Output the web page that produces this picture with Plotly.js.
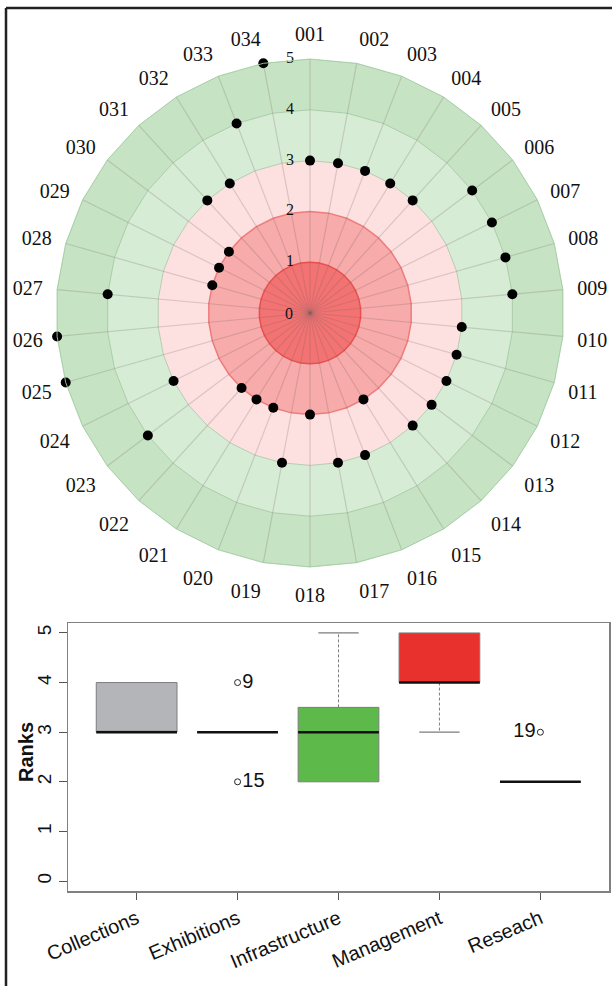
<!DOCTYPE html>
<html><head><meta charset="utf-8">
<script src="https://cdn.plot.ly/plotly-3.0.1.min.js"></script>
<style>html,body{margin:0;padding:0;background:#fff}#chart{width:612px;height:986px}</style>
</head><body><div id="chart"></div>
<script>
// ---- polar (radar) data ----
const museums = ['001','002','003','004','005','006','007','008','009','010','011','012','013','014','015','016','017',
                 '018','019','020','021','022','023','024','025','026','027','028','029','030','031','032','033','034'];
const scores = [3,3,3,3,3,4,4,4,4,3,3,3,3,3,2,3,3,2,3,2,2,2,4,3,5,5,4,2,2,2,3,3,4,5];
const bandEdges = [0,1,2,3,4,5];
const bandColors = ['#f37373','#f8abab','#fde1e1','#d6ecd5','#c6e4c4'];
const ringColors = ['#e84f4f','#ee7c7c','rgba(175,195,170,0.8)','rgba(150,185,150,0.6)','rgba(165,205,165,0.9)'];
const radialTicks = [0,1,2,3,4,5];

// ---- box plot data ----
const dimensions = ['Collections','Exhibitions','Infrastructure','Management','Reseach'];
const boxQ1 = [3,3,2,4,2];
const boxMedian = [3,3,3,4,2];
const boxQ3 = [4,3,3.5,5,2];
const whiskerLow = [3,3,2,3,2];
const whiskerHigh = [4,3,5,5,2];
const boxFills = ['#b3b5b8','#ffffff','#5cb94a','#e8302d','#ffffff'];
const outlierDim = [1,1,4];
const outlierRank = [4,2,3];
const outlierLabel = ['9','15','19'];
const outlierTextPos = ['middle right','middle right','middle left'];
const rankTicks = [0,1,2,3,4,5];

const polarDomain = {x:[56/612, 564/612], y:[1-567/986, 1-59/986]};

const traces = [];
const closed = museums.concat([museums[0]]);
// background bands: nested filled polygons, outermost first
for (let b = bandColors.length - 1; b >= 0; b--) {
  traces.push({
    type:'scatterpolar', subplot:'polar', mode:'lines', fill:'toself',
    theta: closed,
    r: closed.map(() => bandEdges[b+1]),
    fillcolor: bandColors[b],
    line:{color: ringColors[b], width: b <= 1 ? 1.5 : 1},
    hoverinfo:'skip', showlegend:false
  });
}
// spokes
const spT = [], spR = [];
museums.forEach(m => { spT.push(m, m, null); spR.push(bandEdges[0], bandEdges[bandEdges.length-1], null); });
traces.push({
  type:'scatterpolar', subplot:'polar', mode:'lines', theta: spT, r: spR,
  line:{color:'rgba(120,95,95,0.24)', width:1.2}, hoverinfo:'skip', showlegend:false
});
// scores
traces.push({
  type:'scatterpolar', subplot:'polar', mode:'markers',
  theta: museums, r: scores,
  marker:{color:'#000', size:10},
  showlegend:false
});
// radial tick labels (kept horizontal)
const outerTicks = radialTicks.filter(v => v > 0);
traces.push({
  type:'scatterpolar', subplot:'polar', mode:'text',
  theta: outerTicks.map(() => museums[0]), r: outerTicks,
  text: outerTicks.map(v => String(v) + '\u00a0\u00a0\u00a0\u00a0'), textposition:'middle left',
  textfont:{family:'Liberation Serif, Times New Roman, serif', size:16, color:'#111'},
  hoverinfo:'skip', showlegend:false, cliponaxis:false
});

// boxes
const BW = 0.8, CAP = 0.2;
dimensions.forEach((d, i) => {
  traces.push({
    type:'box', xaxis:'x', yaxis:'y',
    x:[i], q1:[boxQ1[i]], median:[boxMedian[i]], q3:[boxQ3[i]],
    lowerfence:[boxQ1[i]], upperfence:[boxQ3[i]],
    width: BW, whiskerwidth: 0,
    fillcolor: boxFills[i], line:{color:'#7d7d7d', width:1},
    boxpoints:false, hoverinfo:'skip', showlegend:false
  });
});
// whiskers (dashed) and caps
const wx = [], wy = [], cx = [], cy = [];
dimensions.forEach((d, i) => {
  if (whiskerHigh[i] > boxQ3[i]) {
    wx.push(i, i, null); wy.push(boxQ3[i], whiskerHigh[i], null);
    cx.push(i - CAP, i + CAP, null); cy.push(whiskerHigh[i], whiskerHigh[i], null);
  }
  if (whiskerLow[i] < boxQ1[i]) {
    wx.push(i, i, null); wy.push(boxQ1[i], whiskerLow[i], null);
    cx.push(i - CAP, i + CAP, null); cy.push(whiskerLow[i], whiskerLow[i], null);
  }
});
traces.push({type:'scatter', mode:'lines', x:wx, y:wy, line:{color:'#7d7d7d', width:1, dash:'3px,2px'}, hoverinfo:'skip', showlegend:false});
traces.push({type:'scatter', mode:'lines', x:cx, y:cy, line:{color:'#7d7d7d', width:1.2}, hoverinfo:'skip', showlegend:false});
// medians
const mx = [], my = [];
dimensions.forEach((d, i) => { mx.push(i - BW/2, i + BW/2, null); my.push(boxMedian[i], boxMedian[i], null); });
traces.push({type:'scatter', mode:'lines', x:mx, y:my, line:{color:'#111', width:2.6}, hoverinfo:'skip', showlegend:false});
// outliers
traces.push({
  type:'scatter', mode:'markers+text', x:outlierDim, y:outlierRank, text:outlierLabel,
  textposition: outlierTextPos,
  textfont:{family:'Liberation Sans, Arial, sans-serif', size:20, color:'#111'},
  marker:{symbol:'circle-open', size:6, color:'#222', line:{width:1}},
  hoverinfo:'skip', showlegend:false
});

const layout = {
  width:612, height:986,
  margin:{l:0, r:0, t:0, b:0},
  paper_bgcolor:'#fff', plot_bgcolor:'#fff',
  showlegend:false,
  polar:{
    domain: polarDomain,
    gridshape:'linear', bgcolor:'rgba(0,0,0,0)',
    radialaxis:{
      range:[0,5], tickvals: radialTicks, angle:90,
      showline:false, showgrid:false, showticklabels:false, ticks:''
    },
    angularaxis:{
      type:'category', categoryarray: museums, direction:'clockwise', rotation:90,
      showline:true, linecolor:'rgba(165,205,165,0.9)', linewidth:1,
      showgrid:false,
      ticks:'outside', ticklen:10, tickcolor:'rgba(0,0,0,0)',
      tickfont:{family:'Liberation Serif, Times New Roman, serif', size:20, color:'#111'}
    }
  },
  xaxis:{
    domain:[68/612, 609/612], anchor:'y',
    range:[-0.68, 4.68], tickvals: dimensions.map((d,i)=>i), ticktext: dimensions,
    tickangle:-23, ticks:'outside', ticklen:7, tickcolor:'#555',
    showline:true, mirror:true, linecolor:'#808080', linewidth:1.5,
    showgrid:false, zeroline:false,
    tickfont:{family:'Liberation Sans, Arial, sans-serif', size:20, color:'#111'}
  },
  yaxis:{
    domain:[1-891/986, 1-623/986], anchor:'x',
    range:[-0.2, 5.2], tickvals: rankTicks,
    tickangle:-90, ticks:'outside', ticklen:8, tickcolor:'#555',
    showline:true, mirror:true, linecolor:'#808080', linewidth:1.5,
    showgrid:false, zeroline:false,
    tickfont:{family:'Liberation Sans, Arial, sans-serif', size:19, color:'#111'}
  },
  annotations:[
    {text:'<b>Ranks</b>', xref:'paper', yref:'paper', x:26/612, y:1-752/986, textangle:-90,
     showarrow:false, xanchor:'center', yanchor:'middle',
     font:{family:'Liberation Sans, Arial, sans-serif', size:20, color:'#111'}},
    // centre (r = 0) label of the radial scale
    {text:String(radialTicks[0]), xref:'paper', yref:'paper',
     x:(polarDomain.x[0]+polarDomain.x[1])/2, y:(polarDomain.y[0]+polarDomain.y[1])/2,
     xanchor:'right', yanchor:'middle', xshift:-15, showarrow:false,
     font:{family:'Liberation Serif, Times New Roman, serif', size:16, color:'#111'}}
  ],
  shapes:[
    {type:'line', xref:'paper', yref:'paper', x0:6/612, x1:6/612, y0:0, y1:1-8/986, line:{color:'#222', width:2.5}},
    {type:'line', xref:'paper', yref:'paper', x0:6/612, x1:1, y0:1-8/986, y1:1-8/986, line:{color:'#222', width:2.5}}
  ]
};

Plotly.newPlot('chart', traces, layout, {displayModeBar:false, staticPlot:true});
</script>
</body></html>
